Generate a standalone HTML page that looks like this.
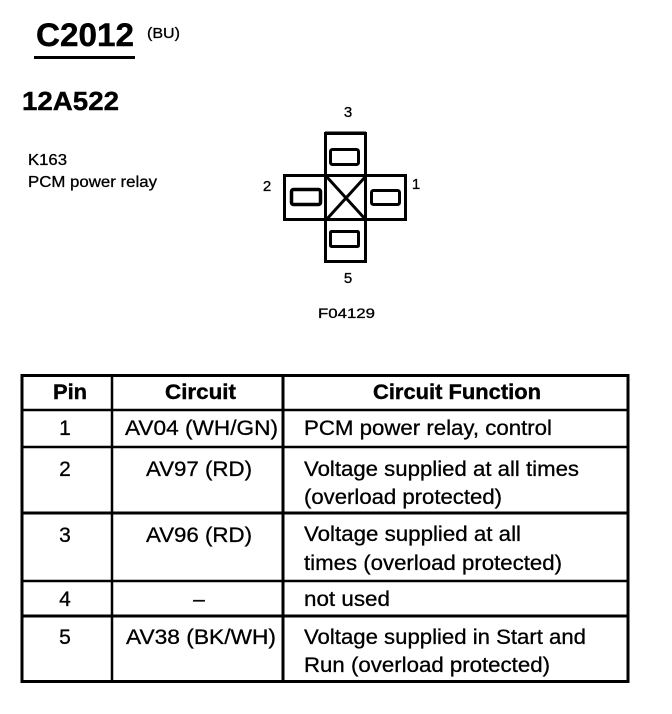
<!DOCTYPE html>
<html><head><meta charset="utf-8">
<style>
html,body{margin:0;padding:0;background:#fff}
svg{display:block}
text{font-family:"Liberation Sans",sans-serif;fill:#000;stroke:#000;stroke-width:.3}
.b{font-weight:bold;stroke-width:.4}
.t{font-size:21px}
.c{text-anchor:middle}
</style></head><body>
<svg width="672" height="714" viewBox="0 0 672 714" xmlns="http://www.w3.org/2000/svg">
<text x="36" y="46" class="b" font-size="32" textLength="98" lengthAdjust="spacingAndGlyphs">C2012</text>
<rect x="34" y="56" width="101" height="3"/>
<text x="147" y="38" font-size="15" textLength="33" lengthAdjust="spacingAndGlyphs">(BU)</text>
<text x="22" y="110" class="b" font-size="26" textLength="97" lengthAdjust="spacingAndGlyphs">12A522</text>
<text x="28" y="165" font-size="15.5" textLength="39" lengthAdjust="spacingAndGlyphs">K163</text>
<text x="28" y="187" font-size="15.5" textLength="129" lengthAdjust="spacingAndGlyphs">PCM power relay</text>

<g fill="none" stroke="#000">
<rect x="325.500" y="133.500" width="40" height="128" stroke-width="3"/>
<rect x="284.500" y="175.500" width="121" height="44" stroke-width="3"/>
<line x1="325" y1="132.500" x2="366" y2="132.500" stroke-width="2"/>
<path d="M326 176L366 220M366 176L326 220" stroke-width="3"/>
<rect x="330.500" y="149.500" width="28" height="15" rx="2" stroke-width="3"/>
<rect x="291.500" y="189.500" width="29" height="15" rx="2" stroke-width="3.500"/>
<rect x="371.500" y="190.500" width="28" height="14" rx="2" stroke-width="3"/>
<rect x="330.500" y="231.500" width="28" height="15" rx="1" stroke-width="3"/>
</g>
<text x="348" y="117" font-size="15" class="c">3</text>
<text x="267" y="191" font-size="15" class="c">2</text>
<text x="416" y="189" font-size="15" class="c">1</text>
<text x="348" y="283" font-size="15" class="c">5</text>
<text x="318" y="318" font-size="13.5" textLength="57" lengthAdjust="spacingAndGlyphs">F04129</text>

<g stroke="#000" fill="none">
<rect x="22" y="375.500" width="606" height="306" stroke-width="3"/>
<line x1="112" y1="375" x2="112" y2="681" stroke-width="2.500"/>
<line x1="283" y1="375" x2="283" y2="681" stroke-width="3"/>
<line x1="22" y1="410" x2="628" y2="410" stroke-width="2.500"/>
<line x1="22" y1="447" x2="628" y2="447" stroke-width="2.500"/>
<line x1="22" y1="513" x2="628" y2="513" stroke-width="3"/>
<line x1="22" y1="581" x2="628" y2="581" stroke-width="2.500"/>
<line x1="22" y1="616" x2="628" y2="616" stroke-width="3"/>
</g>
<text x="53" y="399" class="b" font-size="21" textLength="34" lengthAdjust="spacingAndGlyphs">Pin</text>
<text x="165" y="399" class="b" font-size="21" textLength="71" lengthAdjust="spacingAndGlyphs">Circuit</text>
<text x="373" y="399" class="b" font-size="21" textLength="168" lengthAdjust="spacingAndGlyphs">Circuit Function</text>

<text x="65" y="435" class="t c">1</text>
<text x="65" y="476" class="t c">2</text>
<text x="65" y="542" class="t c">3</text>
<text x="65" y="606" class="t c">4</text>
<text x="65" y="644" class="t c">5</text>

<text x="125" y="435" class="t" textLength="153" lengthAdjust="spacingAndGlyphs">AV04 (WH/GN)</text>
<text x="146" y="476" class="t" textLength="106" lengthAdjust="spacingAndGlyphs">AV97 (RD)</text>
<text x="146" y="542" class="t" textLength="106" lengthAdjust="spacingAndGlyphs">AV96 (RD)</text>
<text x="199" y="606" class="t c">–</text>
<text x="126" y="644" class="t" textLength="150" lengthAdjust="spacingAndGlyphs">AV38 (BK/WH)</text>

<text x="304" y="435" class="t" textLength="248" lengthAdjust="spacingAndGlyphs">PCM power relay, control</text>
<text x="304" y="476" class="t" textLength="275" lengthAdjust="spacingAndGlyphs">Voltage supplied at all times</text>
<text x="304" y="504" class="t" textLength="198" lengthAdjust="spacingAndGlyphs">(overload protected)</text>
<text x="304" y="541" class="t" textLength="217" lengthAdjust="spacingAndGlyphs">Voltage supplied at all</text>
<text x="304" y="570" class="t" textLength="258" lengthAdjust="spacingAndGlyphs">times (overload protected)</text>
<text x="304" y="606" class="t" textLength="86" lengthAdjust="spacingAndGlyphs">not used</text>
<text x="304" y="644" class="t" textLength="282" lengthAdjust="spacingAndGlyphs">Voltage supplied in Start and</text>
<text x="304" y="672" class="t" textLength="246" lengthAdjust="spacingAndGlyphs">Run (overload protected)</text>
</svg>
</body></html>
